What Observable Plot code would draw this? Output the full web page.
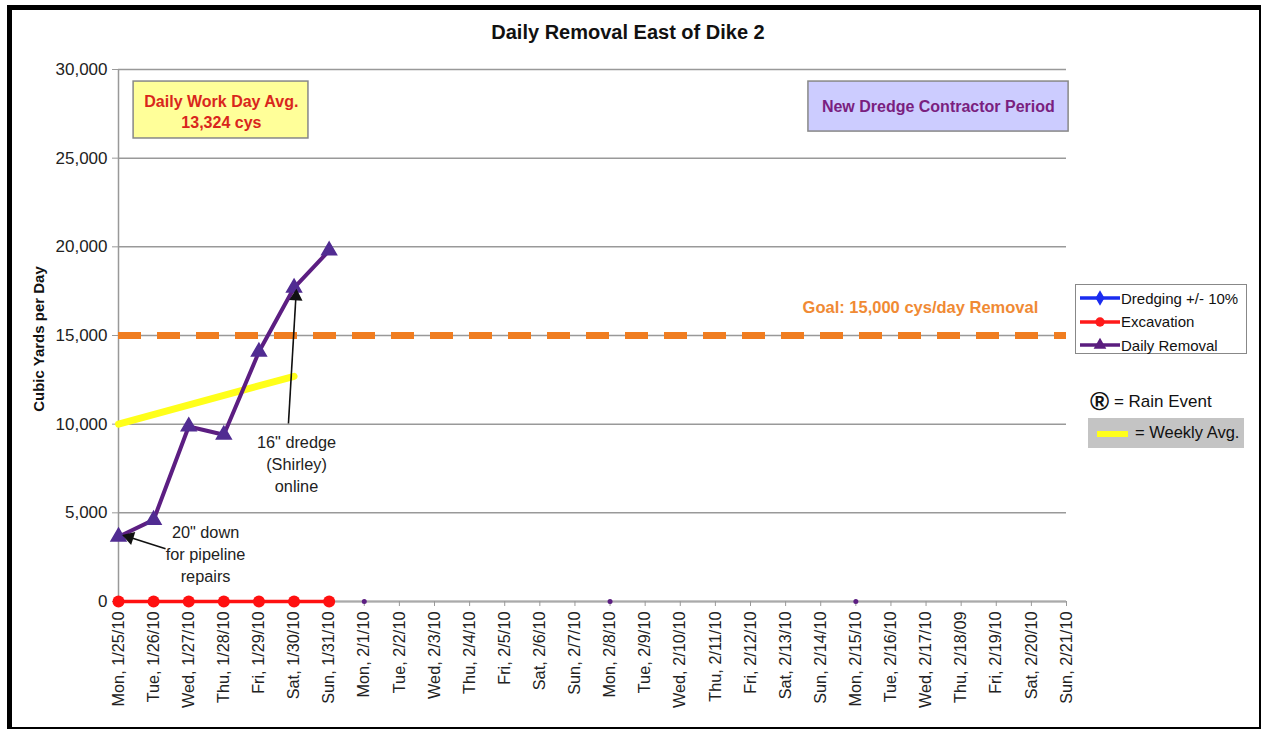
<!DOCTYPE html>
<html>
<head>
<meta charset="utf-8">
<script src="https://cdn.jsdelivr.net/npm/d3@7"></script>
<script src="https://cdn.jsdelivr.net/npm/@observablehq/plot@0.6"></script>
<style>
  body { margin: 0; background: #fff; }
  #wrap { position: relative; width: 1261px; height: 730px; overflow: hidden; background: #fff;
          font-family: "Liberation Sans", Arial, sans-serif; color: #222; }
  #chart { position: absolute; left: 0; top: 0; }
  .abs { position: absolute; white-space: nowrap; }
</style>
</head>
<body>
<div id="wrap">
  <div id="chart"></div>
  <div class="abs" id="title" style="left:0;width:1256px;top:21px;text-align:center;font-weight:bold;font-size:20px;color:#111;"></div>
  <div class="abs" id="ylabel" style="left:38px;top:339px;transform:translate(-50%,-50%) rotate(-90deg);font-weight:bold;font-size:15px;color:#111;"></div>
  <div class="abs" id="legend" style="left:1075px;top:284px;width:170px;height:68px;border:1.5px solid #888;background:#fff;"></div>
  <div class="abs" id="rain" style="left:1090px;top:386px;font-size:17px;color:#111;"></div>
  <div class="abs" id="weekly" style="left:1088px;top:418px;width:156px;height:30px;background:#c4c4c4;"></div>
  <div class="abs" style="left:7px;top:5px;width:1247px;height:717px;border-left:5px solid #000;border-top:5px solid #000;border-right:2px solid #000;border-bottom:2px solid #000;"></div>
</div>
<script>
// ---- data ----
const titleText = "Daily Removal East of Dike 2";
const yLabelText = "Cubic Yards per Day";
const days = ["Mon, 1/25/10","Tue, 1/26/10","Wed, 1/27/10","Thu, 1/28/10","Fri, 1/29/10","Sat, 1/30/10","Sun, 1/31/10",
  "Mon, 2/1/10","Tue, 2/2/10","Wed, 2/3/10","Thu, 2/4/10","Fri, 2/5/10","Sat, 2/6/10","Sun, 2/7/10",
  "Mon, 2/8/10","Tue, 2/9/10","Wed, 2/10/10","Thu, 2/11/10","Fri, 2/12/10","Sat, 2/13/10","Sun, 2/14/10",
  "Mon, 2/15/10","Tue, 2/16/10","Wed, 2/17/10","Thu, 2/18/09","Fri, 2/19/10","Sat, 2/20/10","Sun, 2/21/10"];
const yTicks = [0, 5000, 10000, 15000, 20000, 25000, 30000];
const removalDays = ["Mon, 1/25/10","Tue, 1/26/10","Wed, 1/27/10","Thu, 1/28/10","Fri, 1/29/10","Sat, 1/30/10","Sun, 1/31/10"];
const dailyRemoval = [3650, 4600, 9870, 9400, 14080, 17690, 19790];
const excavationDays = removalDays;
const excavation = [0, 0, 0, 0, 0, 0, 0];
const zeroMarkerDays = ["Mon, 2/1/10", "Mon, 2/8/10", "Mon, 2/15/10"];
const zeroMarkerValues = [0, 0, 0];
const weeklyAvgDays = ["Mon, 1/25/10", "Sat, 1/30/10"];
const weeklyAvg = [10000, 12700];
const goal = 15000;
const goalText = "Goal: 15,000 cys/day Removal";
const workAvgText = "Daily Work Day Avg.\n13,324 cys";
const contractorText = "New Dredge Contractor Period";
const note1 = "16\" dredge\n(Shirley)\nonline";
const note2 = "20\" down\nfor pipeline\nrepairs";
const legendItems = ["Dredging +/- 10%", "Excavation", "Daily Removal"];
const legendColors = ["#1a2cf0", "#ff1a1a", "#5a1d7e"];
const legendSymbols = ["diamond", "circle", "triangle"];
const rainText = "= Rain Event";
const weeklyText = "= Weekly Avg.";

// annotation anchors in data units (day index, cubic yards)
const boxes = [
  {x1: 0.43, x2: 5.41, y1: 26110, y2: 29320, fill: "#ffff99"},
  {x1: 19.65, x2: 27.06, y1: 26500, y2: 29320, fill: "#ccccff"}
];
const arrows = [
  {x1: 4.84, y1: 10040, x2: 5.05, y2: 17100, hx: 5.056, hy: 17200, rot: 3.4},
  {x1: 1.34, y1: 2970, x2: 0.36, y2: 3600, hx: 0.313, hy: 3620, rot: -72.3}
];

const idx = d => days.indexOf(d);
const removal = dailyRemoval.map((v, i) => ({i: idx(removalDays[i]), v}));
const exc = excavation.map((v, i) => ({i: idx(excavationDays[i]), v}));
const zeros = zeroMarkerValues.map((v, i) => ({i: idx(zeroMarkerDays[i]), v}));
const weekly = weeklyAvg.map((v, i) => ({i: idx(weeklyAvgDays[i]), v}));

const purple = "#5c1e82";
const font = "Liberation Sans, Arial, sans-serif";

const chart = Plot.plot({
  width: 1261,
  height: 730,
  marginLeft: 118,
  marginRight: 195,
  marginTop: 69,
  marginBottom: 129,
  style: {fontFamily: font, background: "transparent", overflow: "visible"},
  x: {type: "linear", domain: [0, days.length - 1]},
  y: {domain: [0, 30000]},
  marks: [
    Plot.gridY(yTicks, {stroke: "#999", strokeOpacity: 1, strokeWidth: 1.5}),
    Plot.ruleX([0], {stroke: "#999", strokeWidth: 1.5}),
    Plot.ruleY([0], {stroke: "#aaa", strokeWidth: 2}),
    Plot.axisY({ticks: yTicks, tickFormat: d3.format(","), tickSize: 6, tickPadding: 5, fontSize: 17, stroke: "#999", fill: "#222", label: null}),
    Plot.axisX({ticks: d3.range(days.length), tickFormat: i => days[i], tickRotate: -90, tickSize: 5, tickPadding: 5, fontSize: 16.3, stroke: "#999", fill: "#222", label: null}),
    Plot.rect(boxes, {x1: "x1", x2: "x2", y1: "y1", y2: "y2", fill: "fill", stroke: "#888", strokeWidth: 1.5}),
    Plot.text([workAvgText], {x: 2.93, y: 27680, text: d => d, fill: "#d9261c", fontWeight: "bold", fontSize: 16, lineHeight: 1.3}),
    Plot.text([contractorText], {x: 23.35, y: 27910, text: d => d, fill: "#7a1f80", fontWeight: "bold", fontSize: 16}),
    Plot.ruleY([goal], {stroke: "#f07d20", strokeWidth: 7, strokeDasharray: "23,16"}),
    Plot.text([goalText], {x: 22.84, y: 16580, text: d => d, fill: "#f08a34", fontWeight: "bold", fontSize: 16.5}),
    Plot.line(weekly, {x: "i", y: "v", stroke: "#ffff1a", strokeWidth: 7}),
    Plot.line(exc, {x: "i", y: "v", stroke: "#ff1010", strokeWidth: 3.5}),
    Plot.dot(exc, {x: "i", y: "v", r: 6, fill: "#ff1010"}),
    Plot.line(removal, {x: "i", y: "v", stroke: purple, strokeWidth: 4}),
    Plot.dot(removal, {x: "i", y: "v", symbol: "triangle", r: 5.5, fill: "#512c92", stroke: "#512c92"}),
    Plot.dot(zeros, {x: "i", y: "v", r: 2.5, fill: purple}),
    Plot.link(arrows, {x1: "x1", y1: "y1", x2: "x2", y2: "y2", stroke: "#111", strokeWidth: 1.6}),
    Plot.dot(arrows, {x: "hx", y: "hy", symbol: "triangle", r: 5, fill: "#111", rotate: "rot"}),
    Plot.text([note1], {x: 5.07, y: 7840, text: d => d, fill: "#222", fontSize: 16.3, lineHeight: 1.35}),
    Plot.text([note2], {x: 2.48, y: 2760, text: d => d, fill: "#222", fontSize: 16.3, lineHeight: 1.35})
  ]
});
document.getElementById("chart").appendChild(chart);

document.getElementById("title").textContent = titleText;
document.getElementById("ylabel").textContent = yLabelText;

// legend (HTML + small svg swatches)
const leg = document.getElementById("legend");
legendItems.forEach((name, k) => {
  const row = document.createElement("div");
  row.className = "abs";
  row.style.cssText = `left:3px;top:${3 + k * 23.5}px;height:20px;display:flex;align-items:center;font-size:15px;color:#111;`;
  const sw = d3.create("svg").attr("width", 42).attr("height", 20);
  sw.append("line").attr("x1", 1).attr("x2", 41).attr("y1", 10).attr("y2", 10).attr("stroke", legendColors[k]).attr("stroke-width", 3.5);
  const sym = {diamond: d3.symbolDiamond, circle: d3.symbolCircle, triangle: d3.symbolTriangle}[legendSymbols[k]];
  sw.append("path").attr("d", d3.symbol(sym, 70)()).attr("transform", "translate(21,10)").attr("fill", legendColors[k]);
  row.appendChild(sw.node());
  const t = document.createElement("span");
  t.textContent = name;
  row.appendChild(t);
  leg.appendChild(row);
});

const rain = document.getElementById("rain");
const r1 = document.createElement("span");
r1.textContent = "®";
r1.style.cssText = "font-weight:bold;font-size:26px;vertical-align:middle;";
const r2 = document.createElement("span");
r2.textContent = " " + rainText;
r2.style.cssText = "vertical-align:middle;";
rain.appendChild(r1); rain.appendChild(r2);

const wk = document.getElementById("weekly");
const ws = document.createElement("div");
ws.className = "abs";
ws.style.cssText = "left:9px;top:13px;width:31px;height:6px;background:#ffff1a;";
const wt = document.createElement("div");
wt.className = "abs";
wt.style.cssText = "left:47px;top:5px;font-size:16.5px;color:#111;";
wt.textContent = weeklyText;
wk.appendChild(ws); wk.appendChild(wt);
</script>
</body>
</html>
